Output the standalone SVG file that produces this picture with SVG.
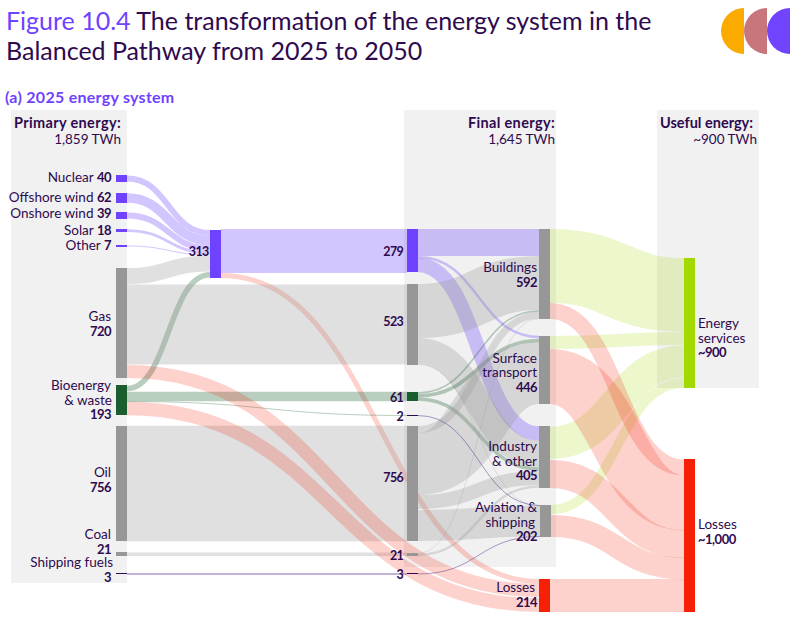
<svg xmlns="http://www.w3.org/2000/svg" width="794" height="638" viewBox="0 0 794 638">
<style>
text{font-family:"Lato","Liberation Sans",sans-serif;font-size:13.5px;fill:#2e0a4f}
.b{font-weight:700;font-size:13px;letter-spacing:-.5px}
.m{font-weight:700;font-size:12.5px;letter-spacing:-.7px}
.hd{font-weight:700;font-size:14.5px;letter-spacing:.35px}
.hu{letter-spacing:0}
.e{text-anchor:end}
.t{font-size:25px}
.h{fill:#6e42ff}
.sec{font-weight:700;font-size:16px;letter-spacing:.27px;fill:#6e42ff}
.bg{fill:#f1f1f1}
.grey{fill:#979797}.pur{fill:#6e42ff}.grn{fill:#1a5e2f}.lime{fill:#a2d900}.red{fill:#f62006}.dk{fill:#2e0a4f}
#connectors path{fill:none}
.lg{stroke:#979797;stroke-opacity:.3}
.lp{stroke:#6e42ff;stroke-opacity:.3}
.lv{stroke:#1a5e2f;stroke-opacity:.3}
.lr{stroke:#f62006;stroke-opacity:.2}
.ll{stroke:#a2d900;stroke-opacity:.2}
.ld{stroke:#4a2180;stroke-opacity:.45}
</style>
<rect class="bg" x="11" y="110" width="116" height="473"/>
<rect class="bg" x="404" y="110" width="152" height="457"/>
<rect class="bg" x="657" y="110" width="102" height="278"/>
<text class="t" x="6" y="30"><tspan class="h">Figure 10.4</tspan> The transformation of the energy system in the</text>
<text class="t" x="6" y="60">Balanced Pathway from 2025 to 2050</text>
<text class="sec" x="5" y="103">(a) 2025 energy system</text>
<g id="logo">
<path d="M744 8A23 23 0 0 0 744 54Z" fill="#fbab00"/>
<path d="M767 8A23 23 0 0 0 767 54Z" fill="#c8757c"/>
<path d="M790 8A23 23 0 0 0 790 54Z" fill="#7145ff"/>
</g>
<text class="hd e" x="121" y="128">Primary energy:</text>
<text class="e" x="121" y="144">1,859 TWh</text>
<text class="hd e" x="555" y="128">Final energy:</text>
<text class="e" x="555" y="144">1,645 TWh</text>
<text class="hd hu e" x="753" y="128">Useful energy:</text>
<text class="e" x="757" y="144">~900 TWh</text>
<g id="connectors">
<path class="lp" stroke-width="6" d="M127 178.500C168.500 178.500 168.500 233 210 233"/>
<path class="lp" stroke-width="9.500" d="M127 198C168.500 198 168.500 240.750 210 240.750"/>
<path class="lp" stroke-width="6" d="M127 215.500C168.500 215.500 168.500 248.500 210 248.500"/>
<path class="lp" stroke-width="2.750" d="M127 230.500C168.500 230.500 168.500 252.900 210 252.900"/>
<path class="lp" stroke-width="1" d="M127 246C168.500 246 168.500 254.800 210 254.800"/>
<path class="lg" stroke-width="16" d="M127 276C168.500 276 168.500 263.400 210 263.400"/>
<path class="lv" stroke-width="5.500" d="M127 388.500C168.500 388.500 168.500 274.800 210 274.800"/>
<path class="lp" stroke-width="44" d="M221 251H407"/>
<path class="lr" stroke-width="5" d="M221 275.500C380 275.500 380 581.500 539 581.500"/>
<path class="lg" stroke-width="80" d="M127 324.500H407"/>
<path class="lg" stroke-width="115.500" d="M127 483.500H407"/>
<path class="lv" stroke-width="9.500" d="M127 396.500H407"/>
<path class="lv" stroke-width="1" d="M127 401.500C267 401.500 267 415.500 407 415.500"/>
<path class="lg" stroke-width="3.500" d="M127 554.300H407"/>
<path class="ld" stroke-width="1.500" d="M127 574H407"/>
<path class="lr" stroke-width="13" d="M127 371.500C333 371.500 333 590.500 539 590.500"/>
<path class="lr" stroke-width="13.500" d="M127 408.500C333 408.500 333 605 539 605"/>
<path class="lp" stroke-width="27" d="M418 242.500H539"/>
<path class="lp" stroke-width="2.500" d="M418 257C478.500 257 478.500 337 539 337"/>
<path class="lp" stroke-width="14.500" d="M418 265C478.500 265 478.500 433.500 539 433.500"/>
<path class="lg" stroke-width="54" d="M418 311C478.500 311 478.500 283 539 283"/>
<path class="lg" stroke-width="26" d="M418 351C478.500 351 478.500 454 539 454"/>
<path class="lg" stroke-width=".8" d="M418 364.500C478.500 364.500 478.500 506 540 506"/>
<path class="lv" stroke-width="1.500" d="M418 393C478.500 393 478.500 311 539 311"/>
<path class="lv" stroke-width="3.500" d="M418 395.750C478.500 395.750 478.500 340.500 539 340.500"/>
<path class="lv" stroke-width="3.500" d="M418 399C478.500 399 478.500 469 539 469"/>
<path class="lg" stroke-width="7" d="M418 429.500C478.500 429.500 478.500 315 539 315"/>
<path class="lg" stroke-width="62" d="M418 464C478.500 464 478.500 373 539 373"/>
<path class="lg" stroke-width="14" d="M418 502C478.500 502 478.500 478 539 478"/>
<path class="lg" stroke-width="31" d="M418 525.500C478.500 525.500 478.500 521 540 521"/>
<path class="lg" stroke-width=".8" d="M418 553.300C478.500 553.300 478.500 318.600 539 318.600"/>
<path class="lg" stroke-width="2.500" d="M418 555C478.500 555 478.500 486.500 539 486.500"/>
<path class="ld" stroke-width="1" d="M418 415.500C478.500 415.500 478.500 505.500 540 505.500"/>
<path class="ld" stroke-width="1" d="M418 574C478.500 574 478.500 536.500 540 536.500"/>
<path class="ll" stroke-width="74" d="M550 266C617 266 617 295 684 295"/>
<path class="ll" stroke-width="13" d="M550 342.500C617 342.500 617 338.500 684 338.500"/>
<path class="ll" stroke-width="32" d="M550 443C617 443 617 361.500 684 361.500"/>
<path class="ll" stroke-width="9.500" d="M551 509.500C617 509.500 617 383 684 383"/>
<path class="lr" stroke-width="16" d="M550 311C617 311 617 467.500 684 467.500"/>
<path class="lr" stroke-width="55" d="M550 376.500C617 376.500 617 503 684 503"/>
<path class="lr" stroke-width="28" d="M550 474C617 474 617 544 684 544"/>
<path class="lr" stroke-width="22" d="M551 526C617 526 617 568.500 684 568.500"/>
<path class="lr" stroke-width="33" d="M550 595.500H684"/>
</g>
<g id="n-nuclear"><rect class="pur" x="116" y="175" width="11" height="7"/><text class="e" x="111" y="182">Nuclear <tspan class="b">40</tspan></text></g>
<g id="n-offshore"><rect class="pur" x="116" y="193" width="11" height="10"/><text class="e" x="111" y="202">Offshore wind <tspan class="b">62</tspan></text></g>
<g id="n-onshore"><rect class="pur" x="116" y="212" width="11" height="7"/><text class="e" x="111" y="218">Onshore wind <tspan class="b">39</tspan></text></g>
<g id="n-solar"><rect class="pur" x="116" y="229" width="11" height="3"/><text class="e" x="111" y="235">Solar <tspan class="b">18</tspan></text></g>
<g id="n-other"><rect class="pur" x="116" y="245" width="11" height="2"/><text class="e" x="111" y="250">Other <tspan class="b">7</tspan></text></g>
<g id="n-gas"><rect class="grey" x="116" y="268" width="11" height="110"/><text class="e" x="111" y="321">Gas</text><text class="b e" x="111" y="336">720</text></g>
<g id="n-bio"><rect class="grn" x="116" y="385" width="11" height="30"/><text class="e" x="111" y="390">Bioenergy</text><text class="e" x="112" y="405">&amp; waste</text><text class="b e" x="111" y="419">193</text></g>
<g id="n-oil"><rect class="grey" x="116" y="426" width="11" height="115"/><text class="e" x="111" y="477">Oil</text><text class="b e" x="111" y="492">756</text></g>
<g id="n-coal"><rect class="grey" x="116" y="552" width="11" height="4"/><text class="e" x="111" y="539">Coal</text><text class="b e" x="111" y="554">21</text></g>
<g id="n-shipping"><rect class="dk" x="116" y="573" width="11" height="1"/><text class="e" x="113" y="567">Shipping fuels</text><text class="b e" x="111" y="582">3</text></g>
<g id="n-313"><rect class="pur" x="210" y="230" width="11" height="48"/><text class="m e" x="208.500" y="256">313</text></g>
<g id="n-279"><rect class="pur" x="407" y="229" width="11" height="43"/><text class="m e" x="403" y="256">279</text></g>
<g id="n-523"><rect class="grey" x="407" y="284" width="11" height="81"/><text class="m e" x="403" y="326">523</text></g>
<g id="n-61"><rect class="grn" x="407" y="392" width="11" height="9"/><text class="m e" x="403" y="401.500">61</text></g>
<g id="n-2"><rect class="dk" x="407" y="415" width="11" height="1"/><text class="m e" x="403" y="420.500">2</text></g>
<g id="n-756"><rect class="grey" x="407" y="426" width="11" height="115"/><text class="m e" x="403" y="482">756</text></g>
<g id="n-21"><rect class="grey" x="407" y="553" width="11" height="3"/><text class="m e" x="403" y="560">21</text></g>
<g id="n-3"><rect class="dk" x="407" y="573" width="11" height="1"/><text class="m e" x="403" y="579">3</text></g>
<g id="n-buildings"><rect class="grey" x="539" y="229" width="11" height="90"/><text class="e" x="537" y="272">Buildings</text><text class="b e" x="537" y="287">592</text></g>
<g id="n-surface"><rect class="grey" x="539" y="336" width="11" height="68"/><text class="e" x="537" y="363">Surface</text><text class="e" x="537" y="377">transport</text><text class="b e" x="537" y="392">446</text></g>
<g id="n-industry"><rect class="grey" x="539" y="426" width="11" height="62"/><text class="e" x="537" y="451">Industry</text><text class="e" x="537" y="466">&amp; other</text><text class="b e" x="537" y="480">405</text></g>
<g id="n-aviation"><rect class="grey" x="540" y="505" width="11" height="32"/><text class="e" x="537" y="512">Aviation &amp;</text><text class="e" x="535" y="527">shipping</text><text class="b e" x="537" y="541">202</text></g>
<g id="n-losses-f"><rect class="red" x="539" y="579" width="11" height="33"/><text class="e" x="535" y="592">Losses</text><text class="b e" x="537" y="607">214</text></g>
<g id="n-services"><rect class="lime" x="684" y="258" width="11" height="130"/><text x="698" y="328">Energy</text><text x="698" y="343">services</text><text class="b" x="698" y="357">~900</text></g>
<g id="n-losses-u"><rect class="red" x="684" y="459" width="11" height="153"/><text x="698" y="529">Losses</text><text class="b" x="698" y="544">~1,000</text></g>
</svg>
